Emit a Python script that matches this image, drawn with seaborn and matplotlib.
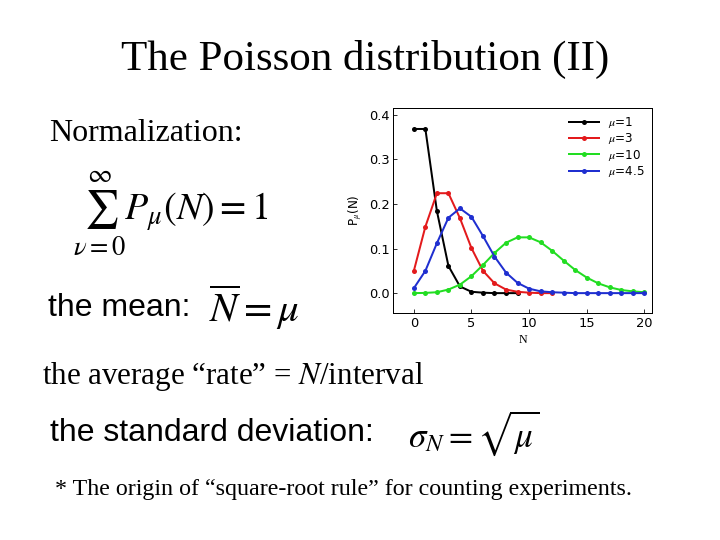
import numpy as np
import pandas as pd
import matplotlib
matplotlib.use("Agg")
import matplotlib.pyplot as plt
import seaborn as sns

plt.rcParams["mathtext.fontset"] = "stix"

# values (P_mu(N) at N = 0, 1, 2, ...)
n_black = list(range(0, 10))
p_mu1 = [0.368, 0.368, 0.184, 0.061, 0.015, 0.003, 0.001, 0.0, 0.0, 0.0]
n_red = list(range(0, 13))
p_mu3 = [0.050, 0.149, 0.224, 0.224, 0.168, 0.101, 0.050, 0.022, 0.008, 0.003, 0.001, 0.0, 0.0]
n_green = list(range(0, 21))
p_mu10 = [0.0, 0.0005, 0.002, 0.008, 0.019, 0.038, 0.063, 0.090, 0.113, 0.125, 0.125,
          0.114, 0.095, 0.073, 0.052, 0.035, 0.022, 0.013, 0.007, 0.004, 0.002]
n_blue = list(range(0, 21))
p_mu45 = [0.011, 0.050, 0.112, 0.169, 0.190, 0.171, 0.128, 0.082, 0.046, 0.023, 0.010,
          0.004, 0.002, 0.001, 0.0, 0.0, 0.0, 0.0, 0.0, 0.0, 0.0]

labels = [r"$\mu$=1", r"$\mu$=3", r"$\mu$=10", r"$\mu$=4.5"]
colors = ["black", "#e31a1c", "#22dd22", "#1f2fd0"]

frames = []
for lab, n, p in zip(labels, [n_black, n_red, n_green, n_blue], [p_mu1, p_mu3, p_mu10, p_mu45]):
    frames.append(pd.DataFrame({"N": n, "P": p, "series": lab}))
df = pd.concat(frames)

fig = plt.figure(figsize=(10, 7.5), dpi=72)
fig.patch.set_facecolor("white")

ax = fig.add_axes([0.546, 0.42, 0.36, 0.38])
sns.lineplot(data=df, x="N", y="P", hue="series", palette=dict(zip(labels, colors)),
             marker="o", markersize=5, linewidth=2, markeredgecolor="none", ax=ax)
ax.set_xlim(-1.8, 20.7)
ax.set_ylim(-0.045, 0.415)
ax.set_xticks([0, 5, 10, 15, 20])
ax.set_yticks([0.0, 0.1, 0.2, 0.3, 0.4])
ax.set_yticklabels(["0.0", "0.1", "0.2", "0.3", "0.4"])
ax.tick_params(labelsize=13, direction="in", length=4)
ax.set_xlabel("N", fontsize=12, family="Liberation Serif")
ax.set_ylabel(r"P$_\mu$(N)", fontsize=12)
for s in ax.spines.values():
    s.set_linewidth(1.0)
leg = ax.legend(loc="upper right", fontsize=12, frameon=False, handlelength=2.5,
                labelspacing=0.1, borderaxespad=0.2)
leg.set_title(None)

serif = "Liberation Serif"
sans = "Liberation Sans"
fig.text(0.507, 0.89, "The Poisson distribution (II)", ha="center", va="center",
         fontsize=43, family=serif)
fig.text(0.068, 0.752, "Normalization:", fontsize=32, family=serif, va="center")
fig.text(0.102, 0.605, r"$\sum_{\nu=0}^{\infty} P_\mu\left(N\right) = 1$", fontsize=38, va="center")
fig.text(0.066, 0.43, "the mean:", fontsize=32, family=sans, va="center")
fig.text(0.29, 0.43, r"$\overline{N} = \mu$", fontsize=41, va="center")
fig.text(0.058, 0.303, "the average \u201crate\u201d = $\\mathit{N}$/interval", fontsize=31,
         family=serif, va="center")
fig.text(0.07, 0.198, "the standard deviation:", fontsize=32, family=sans, va="center")
fig.text(0.567, 0.198, r"$\sigma_N = \sqrt{\mu}$", fontsize=35, va="center")
fig.text(0.077, 0.093, "* The origin of \u201csquare-root rule\u201d for counting experiments.",
         fontsize=24, family=serif, va="center")

fig.savefig("out.png", dpi=72)
